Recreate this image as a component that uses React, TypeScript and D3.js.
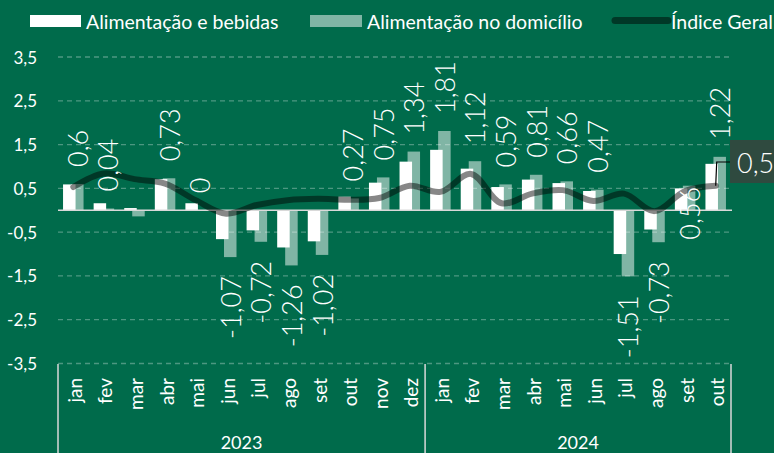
import React from 'react';
import * as d3 from 'd3';

const months2023 = ['jan', 'fev', 'mar', 'abr', 'mai', 'jun', 'jul', 'ago', 'set', 'out', 'nov', 'dez'];
const months2024 = ['jan', 'fev', 'mar', 'abr', 'mai', 'jun', 'jul', 'ago', 'set', 'out'];
const years = ['2023', '2024'];

const alimentacaoBebidas = [0.59, 0.16, 0.05, 0.71, 0.16, -0.66, -0.46, -0.85, -0.71, 0.31, 0.63, 1.11,
  1.38, 0.95, 0.53, 0.7, 0.62, 0.44, -1.0, -0.44, 0.5, 1.06];
const alimentacaoDomicilio = [0.6, 0.04, -0.14, 0.73, 0.0, -1.07, -0.72, -1.26, -1.02, 0.27, 0.75, 1.34,
  1.81, 1.12, 0.59, 0.81, 0.66, 0.47, -1.51, -0.73, 0.56, 1.22];
const indiceGeral = [0.53, 0.84, 0.71, 0.61, 0.23, -0.08, 0.12, 0.23, 0.26, 0.24, 0.28, 0.56,
  0.42, 0.83, 0.16, 0.38, 0.46, 0.21, 0.38, -0.02, 0.44, 0.56];
// label placement for the domicílio data labels
const labelPlacement = ['out', 'out', 'none', 'out', 'out', 'out', 'out', 'out', 'out', 'out', 'out', 'out',
  'out', 'out', 'out', 'out', 'out', 'out', 'out', 'out', 'in', 'out'];
const yTicks = [3.5, 2.5, 1.5, 0.5, -0.5, -1.5, -2.5, -3.5];
const legendLabels = ['Alimentação e bebidas', 'Alimentação no domicílio', 'Índice Geral'];

const W = 774;
const H = 453;
const BG = '#006b4b';
const FONT = 'Lato, "Open Sans", sans-serif';

const fmt = (v: number) => {
  const s = String(Math.round(v * 100) / 100);
  return s.replace('.', ',');
};

export default function App() {
  const cats = [...months2023.map((m) => `2023-${m}`), ...months2024.map((m) => `2024-${m}`)];
  const monthLabels = [...months2023, ...months2024];
  const x = d3.scaleBand<string>().domain(cats).range([58, 731]).padding(0);
  const y = d3.scaleLinear().domain([-3.5, 3.5]).range([363.5, 57]);
  const bw = 12.5;
  const off = 4;
  const cx = (i: number) => (x(cats[i]) as number) + x.bandwidth() / 2;

  const line = d3
    .line<number>()
    .x((_, i) => cx(i))
    .y((d) => y(d))
    .curve(d3.curveCatmullRom.alpha(0.5));

  const lastI = cats.length - 1;
  const lastX = cx(lastI);
  const lastY = y(indiceGeral[lastI]);

  const yearBounds = [
    [x(cats[0]) as number, x(cats[months2023.length]) as number],
    [x(cats[months2023.length]) as number, (x(cats[lastI]) as number) + x.bandwidth()],
  ];

  return (
    <svg
      width={W}
      height={H}
      style={{ position: 'absolute', left: 0, top: 0, display: 'block', background: BG }}
      fontFamily={FONT}
    >
      <rect x={0} y={0} width={W} height={H} fill={BG} />
      {/* gridlines */}
      {yTicks.map((t) => (
        <line
          key={t}
          x1={58}
          x2={732}
          y1={y(t)}
          y2={y(t)}
          stroke="#ffffff"
          strokeOpacity={0.3}
          strokeWidth={1.3}
          strokeDasharray="5 4"
        />
      ))}
      {yTicks.map((t) => (
        <text
          key={`yl${t}`}
          x={37}
          y={y(t)}
          dominantBaseline="central"
          textAnchor="end"
          fill="#fff"
          fontSize={17}
        >
          {fmt(t)}
        </text>
      ))}
      {/* domicílio bars (behind) */}
      {alimentacaoDomicilio.map((v, i) => (
        <rect
          key={`d${i}`}
          x={cx(i) + off - bw / 2}
          width={bw}
          y={Math.min(y(v), y(0))}
          height={Math.abs(y(v) - y(0))}
          fill="#ffffff"
          fillOpacity={0.5}
        />
      ))}
      {/* alimentação e bebidas bars */}
      {alimentacaoBebidas.map((v, i) => (
        <rect
          key={`a${i}`}
          x={cx(i) - off - bw / 2}
          width={bw}
          y={Math.min(y(v), y(0))}
          height={Math.abs(y(v) - y(0))}
          fill="#ffffff"
        />
      ))}
      {/* zero line */}
      <line x1={58} x2={732} y1={y(0)} y2={y(0)} stroke="#d9d9d9" strokeWidth={1.5} />
      {/* índice geral line */}
      <path
        d={line(indiceGeral) || ''}
        fill="none"
        stroke="#000000"
        strokeOpacity={0.47}
        strokeWidth={6}
        strokeLinecap="round"
        strokeLinejoin="round"
      />
      {/* data labels */}
      {alimentacaoDomicilio.map((v, i) => {
        const p = labelPlacement[i];
        if (p === 'none') return null;
        const lx = cx(i) + off;
        let ly: number;
        let anchor: string;
        if (p === 'in') {
          ly = y(v) + 1;
          anchor = 'end';
        } else if (v >= 0) {
          ly = y(v) - 17;
          anchor = 'start';
        } else {
          ly = y(v) + 19;
          anchor = 'end';
        }
        return (
          <text
            key={`l${i}`}
            transform={`translate(${lx},${ly}) rotate(-90)`}
            textAnchor={anchor}
            dominantBaseline="central"
            fill="#fff"
            fontSize={27}
            fontWeight={300}
          >
            {fmt(v)}
          </text>
        );
      })}
      {/* callout for last índice geral point */}
      <polyline
        points={`${lastX},${lastY} ${lastX + 1},${162} ${730},${162}`}
        fill="none"
        stroke="#000"
        strokeWidth={1.2}
      />
      <rect x={730} y={140} width={70} height={43} fill="#2f4a3f" />
      <text x={737} y={162} dominantBaseline="central" fill="#fff" fontSize={27} fontWeight={300}>
        {fmt(indiceGeral[lastI])}
      </text>
      {/* x axis month labels */}
      {monthLabels.map((m, i) => (
        <text
          key={`m${i}`}
          transform={`translate(${cx(i) + 1},${378}) rotate(-90)`}
          textAnchor="end"
          dominantBaseline="central"
          fill="#fff"
          fontSize={19}
        >
          {m}
        </text>
      ))}
      {/* year separators */}
      {[yearBounds[0][0], yearBounds[1][0], yearBounds[1][1]].map((bx, i) => (
        <line key={`s${i}`} x1={bx} x2={bx} y1={364} y2={H} stroke="#d9d9d9" strokeWidth={1.5} />
      ))}
      {years.map((yr, i) => (
        <text
          key={yr}
          x={(yearBounds[i][0] + yearBounds[i][1]) / 2}
          y={442}
          textAnchor="middle"
          dominantBaseline="central"
          fill="#fff"
          fontSize={18}
        >
          {yr}
        </text>
      ))}
      {/* legend */}
      <rect x={30} y={15} width={51} height={12} fill="#fff" />
      <text x={86} y={21} dominantBaseline="central" fill="#fff" fontSize={19.5}>
        {legendLabels[0]}
      </text>
      <rect x={310} y={15} width={52} height={12} fill="#fff" fillOpacity={0.5} />
      <text x={367} y={21} dominantBaseline="central" fill="#fff" fontSize={19.5}>
        {legendLabels[1]}
      </text>
      <line
        x1={615}
        x2={668}
        y1={20.5}
        y2={20.5}
        stroke="#000"
        strokeOpacity={0.47}
        strokeWidth={7}
        strokeLinecap="round"
      />
      <text x={671} y={21} dominantBaseline="central" fill="#fff" fontSize={19.5}>
        {legendLabels[2]}
      </text>
    </svg>
  );
}
